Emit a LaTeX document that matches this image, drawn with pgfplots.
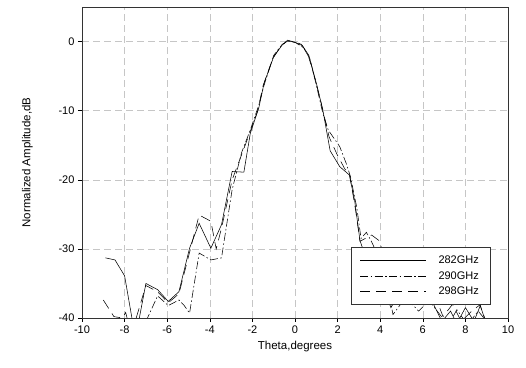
\documentclass[border=0pt]{standalone}
\usepackage{fontspec}
\setmainfont{Liberation Sans}
\usepackage{pgfplots}
\pgfplotsset{compat=1.18}

% measured patterns, normalized to peak
\pgfplotstableread{
x y
-8.9 -31.3
-8.45 -31.6
-8.0 -33.9
-7.6 -41.0
-7.4 -41.5
-7.0 -35.0
-6.45 -35.9
-5.95 -37.6
-5.45 -36.2
-4.95 -29.9
-4.5 -26.3
-3.95 -29.9
-3.45 -26.5
-2.95 -18.8
-2.4 -18.9
-2.1 -13.3
-1.7 -9.6
-1.45 -6.0
-1.0 -2.2
-0.6 -0.5
-0.35 0.2
0.0 -0.1
0.35 -0.6
0.65 -2.0
1.0 -6.0
1.3 -9.8
1.65 -15.8
2.1 -18.1
2.55 -19.3
2.8 -23.0
3.05 -28.8
3.3 -31.0
4.0 -34.0
4.5 -38.5
5.0 -36.0
5.5 -38.0
6.0 -37.0
6.5 -38.0
6.9 -40.5
7.3 -39.0
7.6 -40.8
8.0 -38.5
8.4 -40.5
8.7 -38.2
9.0 -41.0
}\tabA
\pgfplotstableread{
x y
-7.0 -40.5
-6.45 -36.8
-5.95 -38.2
-5.45 -37.4
-5.2 -38.2
-4.95 -39.3
-4.5 -30.6
-3.95 -31.6
-3.45 -31.3
-2.95 -21.4
-2.5 -16.0
-2.1 -12.8
-1.7 -9.2
-1.45 -6.3
-1.0 -2.0
-0.6 -0.4
-0.3 0.1
0.05 -0.2
0.4 -0.9
0.7 -2.5
1.0 -6.3
1.3 -10.3
1.56 -12.8
2.1 -15.2
2.4 -17.6
2.6 -19.5
2.9 -24.0
3.1 -28.5
3.35 -27.6
3.6 -29.0
4.2 -33.0
4.6 -39.5
5.2 -37.0
5.8 -39.0
6.3 -37.5
6.8 -39.5
7.2 -41.0
7.6 -38.8
8.1 -41.0
8.6 -39.0
9.0 -40.5
}\tabB
\pgfplotstableread{
x y
-9.0 -37.4
-8.5 -39.8
-8.1 -40.0
-7.95 -39.2
-7.8 -41.0
-7.6 -41.5
-7.0 -35.3
-6.45 -36.2
-5.95 -37.8
-5.45 -36.5
-4.95 -30.5
-4.5 -25.1
-3.95 -26.0
-3.7 -30.0
-3.45 -27.0
-2.95 -20.0
-2.4 -15.5
-2.1 -13.0
-1.75 -10.0
-1.5 -6.4
-1.05 -2.5
-0.7 -0.8
-0.4 0.0
-0.05 0.0
0.3 -0.4
0.6 -1.8
0.95 -5.5
1.25 -9.2
1.6 -13.8
2.0 -16.5
2.35 -18.5
2.55 -19.0
2.85 -24.5
3.05 -28.9
3.6 -28.0
3.99 -28.9
4.4 -35.0
4.8 -37.5
5.4 -36.5
6.0 -38.0
6.65 -37.4
6.95 -39.8
7.4 -38.0
7.8 -40.5
8.3 -39.0
8.68 -38.1
9.0 -40.8
}\tabC

\begin{document}
\begin{tikzpicture}
\begin{axis}[
    scale only axis,
    width=426pt, height=311pt,
    xmin=-10, xmax=10, ymin=-40, ymax=5,
    xtick={-10,-8,...,10},
    ytick={-40,-30,-20,-10,0},
    tick align=outside,
    xtick pos=bottom, ytick pos=left,
    major tick length=4pt,
    tick style={black, thin},
    grid=major,
    grid style={gray!45, dash pattern=on 7pt off 4pt, line width=0.5pt},
    axis line style={black!80, line width=0.6pt},
    /pgf/number format/assume math mode=true,
    ticklabel style={font=\fontsize{11}{12}\selectfont},
    xlabel={Theta,degrees},
    ylabel={Normalized Amplitude,dB},
    label style={font=\fontsize{11.5}{13}\selectfont},
    xlabel style={yshift=-1pt},
    ylabel style={yshift=19pt},
    legend cell align=left,
    legend style={at={(rel axis cs:0.958,0.042)}, anchor=south east,
        draw=black!80, fill=white, line width=0.5pt,
        font=\fontsize{11}{12}\selectfont,
        inner xsep=9pt, inner ysep=7pt, row sep=2pt},
    legend image code/.code={\draw[#1] (0pt,0pt) -- (66pt,0pt);},
    every axis plot/.append style={black, line width=0.55pt},
    clip=true,
]
\addplot[solid] table {\tabA};
\addplot[dash pattern=on 8pt off 2.5pt on 1.5pt off 2.5pt] table {\tabB};
\addplot[dash pattern=on 10pt off 6pt] table {\tabC};
\legend{\hspace*{10pt}282GHz, \hspace*{10pt}290GHz, \hspace*{10pt}298GHz}
\end{axis}
\path[use as bounding box] ([xshift=-82pt,yshift=-50pt]current axis.south west)
    rectangle ([xshift=18pt,yshift=7pt]current axis.north east);
\end{tikzpicture}
\end{document}
